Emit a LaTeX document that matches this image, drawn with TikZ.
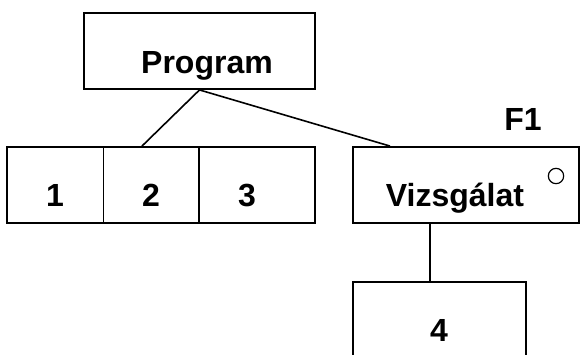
\documentclass[tikz,border=0pt]{standalone}
\usepackage{fontspec}
\setmainfont{Liberation Sans}
\usetikzlibrary{fit,calc}
\begin{document}
\begin{tikzpicture}[x=0.75pt,y=-0.75pt,
  box/.style={draw, line width=1.4pt, inner sep=0pt, rectangle},
  link/.style={line width=1.2pt},
  lbl/.style={font=\bfseries\fontsize{24}{27}\selectfont, anchor=base, inner sep=0pt}]
\clip (0,0) rectangle (580,354);
\fill[white] (0,0) rectangle (580,354);

% boxes
\node[box, fit={(84,13) (315,89)}] (prog) {};
\node[box, fit={(7,147) (103.5,223)}] (b1) {};
\node[box, fit={(103.5,147) (199,223)}] (b2) {};
\node[box, fit={(199,147) (315,223)}] (b3) {};
\node[box, fit={(353,147) (579.3,223)}] (viz) {};
\node[box, fit={(353,282) (526,370)}] (b4) {};

% labels
\node[lbl] (tprog) at (207,73) {Program};
\node[lbl] (t1) at (55,206) {1};
\node[lbl] (t2) at (151,206) {2};
\node[lbl] (t3) at (247,206) {3};
\node[lbl] (tviz) at (455,206) {Vizsgálat};
\node[lbl] (tf1) at (523,130) {F1};
\node[lbl] (t4) at (439,341) {4};
\node[draw, circle, line width=0.9pt, minimum size=11.5pt, inner sep=0pt] (mark) at (556,176) {};

% connectors
\coordinate (c2) at (142,0);
\coordinate (cv) at (390,0);
\coordinate (cd) at (430,0);
\draw[link] (prog.south) -- (b2.north -| c2);
\draw[link] (prog.south) -- (viz.north -| cv);
\draw[link] (viz.south -| cd) -- (b4.north -| cd);
\end{tikzpicture}
\end{document}
